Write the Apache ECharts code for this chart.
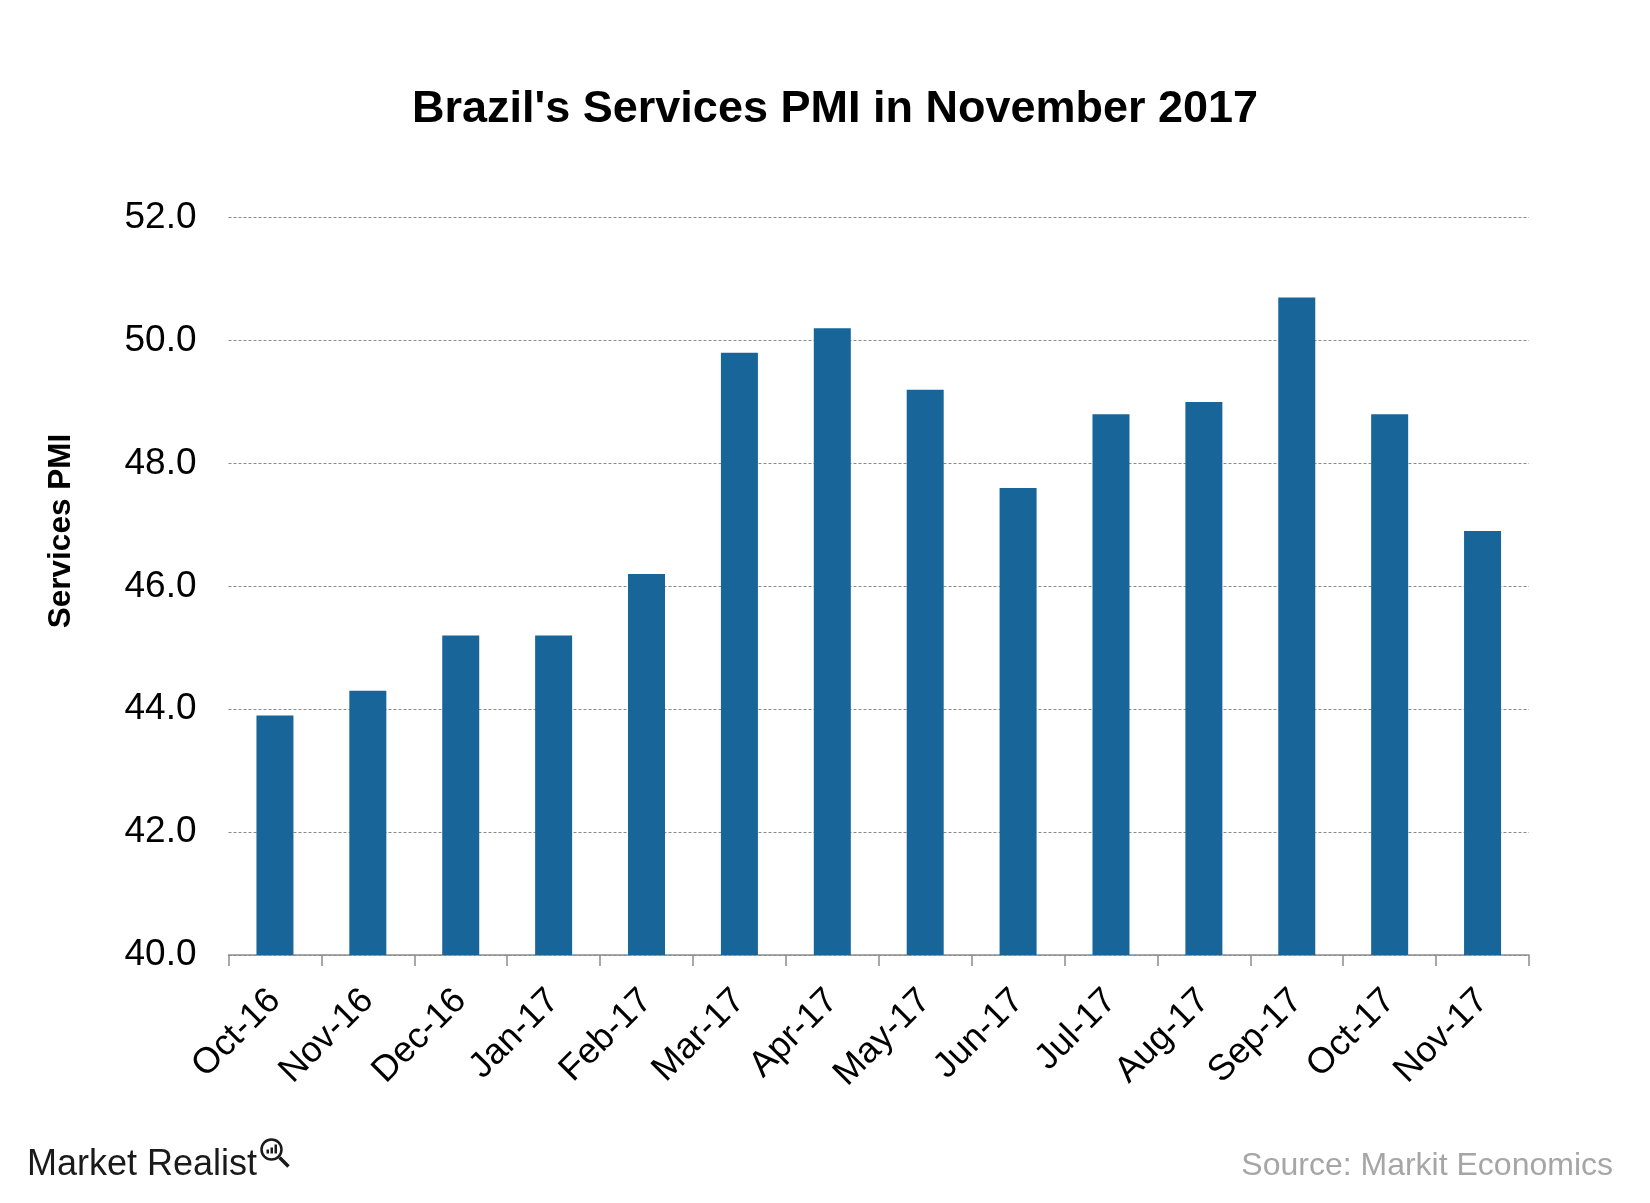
<!DOCTYPE html>
<html>
<head>
<meta charset="utf-8">
<script src="https://cdn.jsdelivr.net/npm/echarts@6/dist/echarts.min.js"></script>
<style>
html,body{margin:0;padding:0;background:#fff;}
#chart{width:1650px;height:1203px;}
</style>
</head>
<body>
<div id="chart"></div>
<script>
const categories = ['Oct-16','Nov-16','Dec-16','Jan-17','Feb-17','Mar-17','Apr-17','May-17','Jun-17','Jul-17','Aug-17','Sep-17','Oct-17','Nov-17'];
const pmiValues = [43.9, 44.3, 45.2, 45.2, 46.2, 49.8, 50.2, 49.2, 47.6, 48.8, 49.0, 50.7, 48.8, 46.9];
const titleText = "Brazil's Services PMI in November 2017";
const yAxisName = 'Services PMI';
const sourceText = 'Source: Markit Economics';
const logoText = 'Market Realist';

const chart = echarts.init(document.getElementById('chart'), null, {renderer: 'canvas'});
const FONT = '"Liberation Sans", Arial, sans-serif';

chart.setOption({
  animation: false,
  backgroundColor: '#ffffff',
  title: {
    text: titleText,
    left: 412,
    top: 87,
    padding: 0,
    textStyle: {fontFamily: FONT, fontSize: 45, fontWeight: 'bold', color: '#000'}
  },
  grid: {left: 228.5, right: 121, top: 217.7, bottom: 248, containLabel: false},
  xAxis: {
    type: 'category',
    data: categories,
    boundaryGap: true,
    axisLine: {show: true, lineStyle: {color: '#8c8c8c', width: 1.5}},
    axisTick: {show: true, alignWithLabel: false, length: 11, lineStyle: {color: '#8c8c8c', width: 1.5}},
    axisLabel: {
      interval: 0,
      rotate: 45,
      margin: 40,
      fontFamily: FONT,
      fontSize: 36,
      color: '#000'
    },
    splitLine: {show: false}
  },
  yAxis: {
    type: 'value',
    min: 40,
    max: 52,
    interval: 2,
    axisLine: {show: false},
    axisTick: {show: false},
    axisLabel: {
      margin: 32,
      fontFamily: FONT,
      fontSize: 37,
      color: '#000',
      formatter: v => v.toFixed(1)
    },
    splitLine: {show: true, lineStyle: {color: '#8a8a8a', width: 1, type: [3, 2]}}
  },
  series: [{
    type: 'bar',
    data: pmiValues,
    barWidth: 37,
    itemStyle: {color: '#176599'}
  }],
  graphic: [
    {
      type: 'text',
      x: 61,
      y: 531,
      rotation: Math.PI / 2,
      style: {
        text: yAxisName,
        fontFamily: FONT,
        fontSize: 31.5,
        fontWeight: 'bold',
        fill: '#000',
        align: 'center',
        verticalAlign: 'middle'
      }
    },
    {
      type: 'text',
      right: 37,
      top: 1150,
      style: {
        text: sourceText,
        fontFamily: FONT,
        fontSize: 32,
        fill: '#a6a6a6'
      }
    },
    {
      type: 'text',
      left: 27,
      top: 1147,
      style: {
        text: logoText,
        fontFamily: FONT,
        fontSize: 36,
        fill: '#1a1a1a'
      }
    },
    {
      type: 'group',
      left: 259,
      top: 1137,
      children: [
        {type: 'circle', shape: {cx: 11, cy: 11, r: 10}, style: {fill: 'none', stroke: '#1a1a1a', lineWidth: 2.5}},
        {type: 'line', shape: {x1: 19, y1: 19, x2: 28, y2: 28}, style: {stroke: '#1a1a1a', lineWidth: 3.5}},
        {type: 'rect', shape: {x: 6, y: 11, width: 2.5, height: 4}, style: {fill: '#1a1a1a'}},
        {type: 'rect', shape: {x: 10, y: 9, width: 2.5, height: 6}, style: {fill: '#1a1a1a'}},
        {type: 'rect', shape: {x: 14, y: 6, width: 2.5, height: 9}, style: {fill: '#1a1a1a'}}
      ]
    }
  ]
});
</script>
</body>
</html>
